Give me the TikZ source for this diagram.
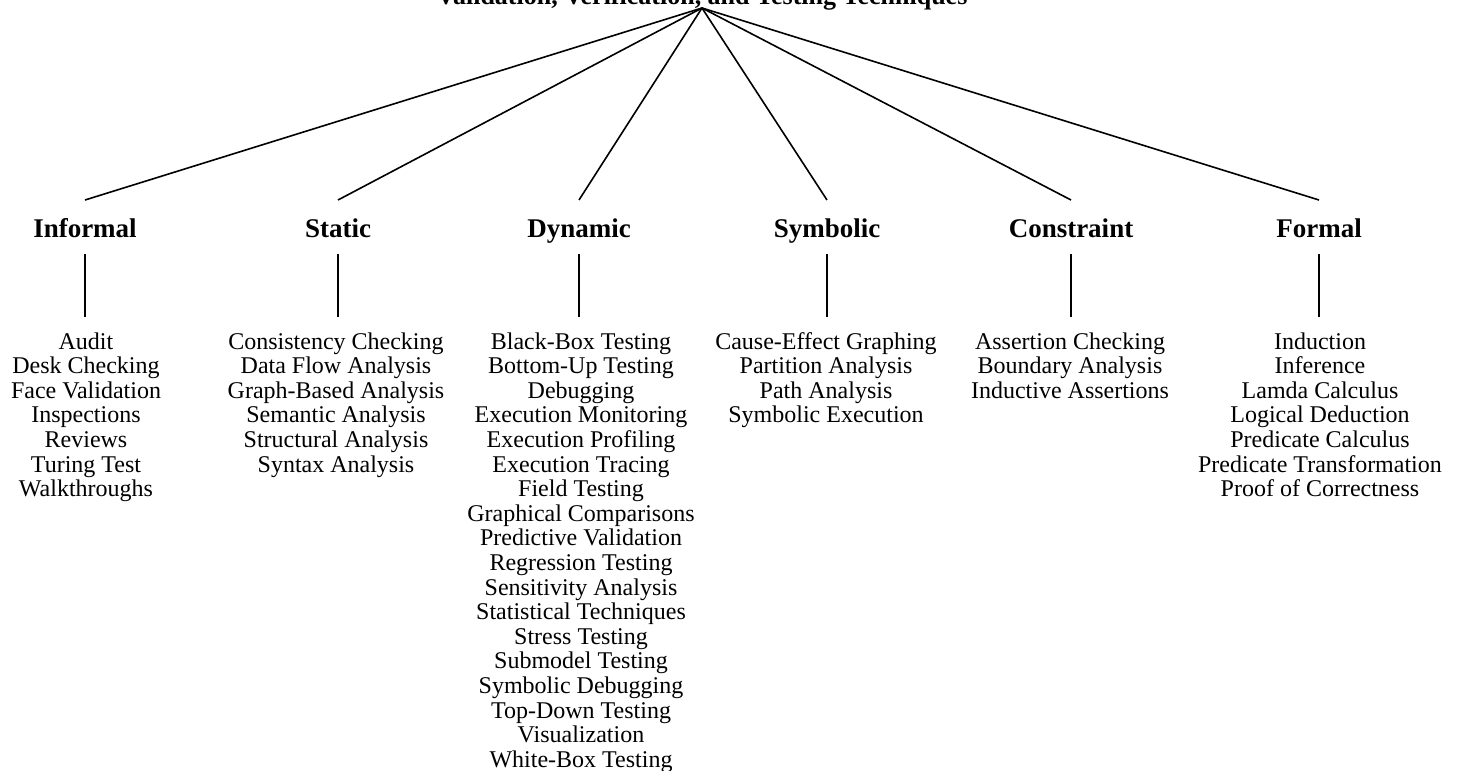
\documentclass[tikz,border=0pt]{standalone}
\usepackage{fontspec}
\setmainfont{Liberation Serif}
\newcommand{\topstrut}{\rule{0pt}{32pt}}
\begin{document}
\begin{tikzpicture}[x=1pt,y=-1pt,
  conn/.style={line width=1.6pt},
  head/.style={font=\fontsize{27}{30}\bfseries\selectfont, anchor=base, inner sep=0pt, outer sep=0pt, text height=37pt, text depth=17pt},
  items/.style={font=\fontsize{24}{24.6}\selectfont, align=center, anchor=north, inner sep=0pt, outer sep=0pt}]
\useasboundingbox (0,0) rectangle (1460,771);
\node[font=\fontsize{26}{28}\bfseries\selectfont, anchor=base, inner sep=0pt, outer sep=0pt, text depth=3pt] (title) at (702,5) {Validation, Verification, and Testing Techniques};

\node[head] (h1) at (85,237) {Informal};
\node[head] (h2) at (338,237) {Static};
\node[head] (h3) at (579,237) {Dynamic};
\node[head] (h4) at (827,237) {Symbolic};
\node[head] (h5) at (1071,237) {Constraint};
\node[head] (h6) at (1319,237) {Formal};

\node[items] (l1) at (86,317) {\topstrut Audit\\Desk Checking\\Face Validation\\Inspections\\Reviews\\Turing Test\\Walkthroughs};
\node[items] (l2) at (336,317) {\topstrut Consistency Checking\\Data Flow Analysis\\Graph-Based Analysis\\Semantic Analysis\\Structural Analysis\\Syntax Analysis};
\node[items] (l3) at (581,317) {\topstrut Black-Box Testing\\Bottom-Up Testing\\Debugging\\Execution Monitoring\\Execution Profiling\\Execution Tracing\\Field Testing\\Graphical Comparisons\\Predictive Validation\\Regression Testing\\Sensitivity Analysis\\Statistical Techniques\\Stress Testing\\Submodel Testing\\Symbolic Debugging\\Top-Down Testing\\Visualization\\White-Box Testing};
\node[items] (l4) at (826,317) {\topstrut Cause-Effect Graphing\\Partition Analysis\\Path Analysis\\Symbolic Execution};
\node[items] (l5) at (1070,317) {\topstrut Assertion Checking\\Boundary Analysis\\Inductive Assertions};
\node[items] (l6) at (1320,317) {\topstrut Induction\\Inference\\Lamda Calculus\\Logical Deduction\\Predicate Calculus\\Predicate Transformation\\Proof of Correctness};

\foreach \i in {1,...,6} {
  \draw[conn] (title.south) -- (h\i.north);
  \draw[conn] (h\i.south) -- (h\i.south |- l\i.north);
}
\end{tikzpicture}
\end{document}
